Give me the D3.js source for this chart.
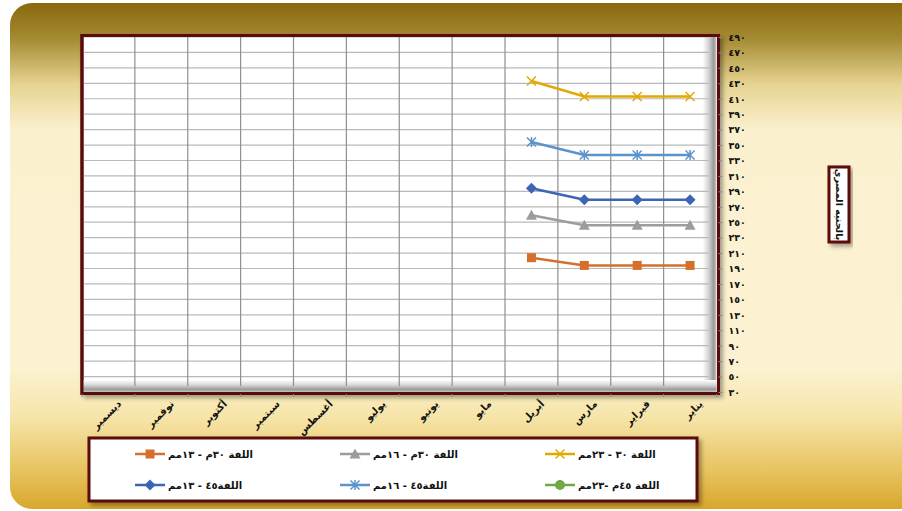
<!DOCTYPE html>
<html><head><meta charset="utf-8">
<script src="https://cdn.jsdelivr.net/npm/d3@7"></script>
<style>html,body{margin:0;padding:0;background:#fff;overflow:hidden}svg{display:block}</style>
</head><body><svg id="c" width="902" height="511"></svg>
<script>
const months = ["يناير","فبراير","مارس","أبريل","مايو","يونيو","يوليو","أغسطس","سبتمبر","أكتوبر","نوفمبر","ديسمبر"];
const yTicks = [30,50,70,90,110,130,150,170,190,210,230,250,270,290,310,330,350,370,390,410,430,450,470,490];
const yTitle = "بالجنيه المصري";
const s30_13 = [194,194,194,204];
const s30_16 = [246,246,246,259];
const s30_23 = [413,413,413,433];
const s45_13 = [279,279,279,294];
const s45_16 = [337,337,337,354];
const s45_23 = [];
const seriesNames = ["اللفة ٣٠م - ١٣مم","اللفة ٣٠م - ١٦مم","اللفة ٣٠ - ٢٣مم","اللفة٤٥ - ١٣مم","اللفة٤٥ - ١٦مم","اللفة ٤٥م -٢٣مم"];
const seriesColors = ["#D4702C","#9C9C9C","#E2A900","#3C66B4","#5B93CC","#6FA845"];
const seriesMarkers = ["square","triangle","x","diamond","star","circle"];
const seriesData = [s30_13,s30_16,s30_23,s45_13,s45_16,s45_23];

const ar = n => String(n).replace(/[0-9]/g, d => "٠١٢٣٤٥٦٧٨٩"[+d]);
const svg = d3.select("#c");
const defs = svg.append("defs");
const bg = defs.append("linearGradient").attr("id","bg").attr("x1",0).attr("y1",0).attr("x2",0).attr("y2",1);
[[0,"#8a690c"],[0.07,"#a48a32"],[0.16,"#e6d390"],[0.25,"#fbf0ce"],[0.72,"#fcf2d2"],[0.82,"#f6e4a8"],[0.92,"#e8c462"],[1,"#d8a72c"]]
  .forEach(([o,c])=>bg.append("stop").attr("offset",o).attr("stop-color",c));
const sh = defs.append("filter").attr("id","sh").attr("x","-10%").attr("y","-10%").attr("width","130%").attr("height","130%");
sh.append("feDropShadow").attr("dx",3).attr("dy",3).attr("stdDeviation",2).attr("flood-color","#000").attr("flood-opacity",0.35);
const wallR = defs.append("linearGradient").attr("id","wr").attr("x1",0).attr("x2",1).attr("y1",0).attr("y2",0);
[[0,"#ffffff"],[0.4,"#d8d8d8"],[0.8,"#9a9a9a"],[1,"#c8c8c8"]].forEach(([o,c])=>wallR.append("stop").attr("offset",o).attr("stop-color",c));
const wallB = defs.append("linearGradient").attr("id","wb").attr("x1",0).attr("x2",0).attr("y1",0).attr("y2",1);
[[0,"#ffffff"],[0.4,"#d8d8d8"],[0.8,"#9a9a9a"],[1,"#c8c8c8"]].forEach(([o,c])=>wallB.append("stop").attr("offset",o).attr("stop-color",c));

svg.append("rect").attr("x",10).attr("y",3).attr("width",920).attr("height",506).attr("rx",22).attr("fill","url(#bg)");

const L = 82, R = 716.5, T = 37, B = 392;
const x = d3.scaleBand().domain(months).range([R, L]);
const y = d3.scaleLinear().domain([30,490]).range([B, T]);

// plot frame
svg.append("rect").attr("x",L).attr("y",T-1.5).attr("width",R-L+2).attr("height",B-T+3)
  .attr("fill","#fff").attr("stroke","#5a0b0b").attr("stroke-width",3).attr("filter","url(#sh)");
// 3D walls
svg.append("rect").attr("x",R-14).attr("y",T).attr("width",14).attr("height",B-T).attr("fill","url(#wr)");
svg.append("rect").attr("x",L).attr("y",B-12).attr("width",R-L).attr("height",12).attr("fill","url(#wb)");

const g = svg.append("g");
g.selectAll("line.h").data(yTicks).join("line")
  .attr("x1",L+1).attr("x2",R-8).attr("y1",d=>y(d)).attr("y2",d=>y(d))
  .attr("stroke","#b8b8b8").attr("stroke-width",1.2);
const bounds = months.map(m=>x(m)).concat([R]);
g.selectAll("line.v").data(months.slice(0,11)).join("line")
  .attr("x1",d=>x(d)).attr("x2",d=>x(d)).attr("y1",T).attr("y2",B-6)
  .attr("stroke","#8f8f8f").attr("stroke-width",1.2);

// redraw frame border on top
svg.append("rect").attr("x",L).attr("y",T-1.5).attr("width",R-L+2).attr("height",B-T+3)
  .attr("fill","none").attr("stroke","#5a0b0b").attr("stroke-width",3);

// y axis on right
const ya = svg.append("g").attr("transform",`translate(${R+2},0)`)
  .call(d3.axisRight(y).tickValues(yTicks).tickSize(4).tickFormat(d=>ar(d)));
ya.select(".domain").remove();
ya.selectAll("line").attr("stroke","#8a8a8a");
ya.selectAll("text").attr("x",10).attr("text-anchor","start").attr("dy","0.35em")
  .attr("font-family","DejaVu Sans").attr("font-weight","bold").attr("font-size",9.5).attr("fill","#111");

// x axis ticks
svg.append("g").selectAll("line").data(bounds).join("line")
  .attr("x1",d=>d).attr("x2",d=>d).attr("y1",B+2).attr("y2",B+5).attr("stroke","#8a8a8a");
svg.append("g").selectAll("text").data(months).join("text")
  .attr("transform",d=>`translate(${x(d)+x.bandwidth()/2+11},${B+10}) rotate(-45)`)
  .attr("text-anchor","end").attr("dy","0.35em")
  .attr("font-family","DejaVu Sans").attr("font-weight","bold").attr("font-size",10).attr("fill","#111")
  .text(d=>d);

// marker drawing
function marker(sel, type, color, sz){
  if(type==="square") sel.append("rect").attr("x",-4.5).attr("y",-4.5).attr("width",9).attr("height",9).attr("fill",color);
  else if(type==="triangle") sel.append("path").attr("d","M0,-5.5L5.5,4.5L-5.5,4.5Z").attr("fill",color);
  else if(type==="diamond") sel.append("path").attr("d","M0,-5.5L5.5,0L0,5.5L-5.5,0Z").attr("fill",color);
  else if(type==="circle") sel.append("circle").attr("r",5).attr("fill",color);
  else if(type==="x") sel.append("path").attr("d","M-4.5,-4.5L4.5,4.5M-4.5,4.5L4.5,-4.5").attr("stroke",color).attr("stroke-width",1.5).attr("fill","none");
  else if(type==="star") sel.append("path").attr("d","M-4.5,-4.5L4.5,4.5M-4.5,4.5L4.5,-4.5M0,-5L0,5").attr("stroke",color).attr("stroke-width",1.5).attr("fill","none");
}
const line = d3.line().x((d,i)=>x(months[i])+x.bandwidth()/2).y(d=>y(d));
seriesData.forEach((data,k)=>{
  if(!data.length) return;
  svg.append("path").datum(data).attr("d",line).attr("fill","none")
    .attr("stroke",seriesColors[k]).attr("stroke-width",2.5);
  data.forEach((v,i)=>{
    const m = svg.append("g").attr("transform",`translate(${x(months[i])+x.bandwidth()/2},${y(v)})`);
    marker(m, seriesMarkers[k], seriesColors[k]);
  });
});

// y title box
svg.append("rect").attr("x",829).attr("y",167).attr("width",20).attr("height",75)
  .attr("fill","#fff").attr("stroke","#5a0b0b").attr("stroke-width",3).attr("filter","url(#sh)");
svg.append("text").attr("transform","translate(839,204.5) rotate(90)")
  .attr("text-anchor","middle").attr("dy","0.35em")
  .attr("font-family","DejaVu Sans").attr("font-weight","bold").attr("font-size",9.5).attr("fill","#111")
  .text(yTitle);

// legend
svg.append("rect").attr("x",89).attr("y",438).attr("width",608).attr("height",63)
  .attr("fill","#fff").attr("stroke","#5a0b0b").attr("stroke-width",3).attr("filter","url(#sh)");
const legX = [135,340,545], legY = [454,485];
seriesNames.forEach((name,k)=>{
  const col = k%3, row = Math.floor(k/3);
  const lg = svg.append("g").attr("transform",`translate(${legX[col]},${legY[row]})`);
  lg.append("line").attr("x1",0).attr("x2",30).attr("stroke",seriesColors[k]).attr("stroke-width",2.5);
  const m = lg.append("g").attr("transform","translate(15,0)");
  marker(m, seriesMarkers[k], seriesColors[k]);
  lg.append("text").attr("x",33).attr("dy","0.35em").attr("text-anchor","end").attr("direction","rtl")
    .attr("font-family","DejaVu Sans").attr("font-weight","bold").attr("font-size",10).attr("fill","#111")
    .text(name);
});
</script></body></html>
